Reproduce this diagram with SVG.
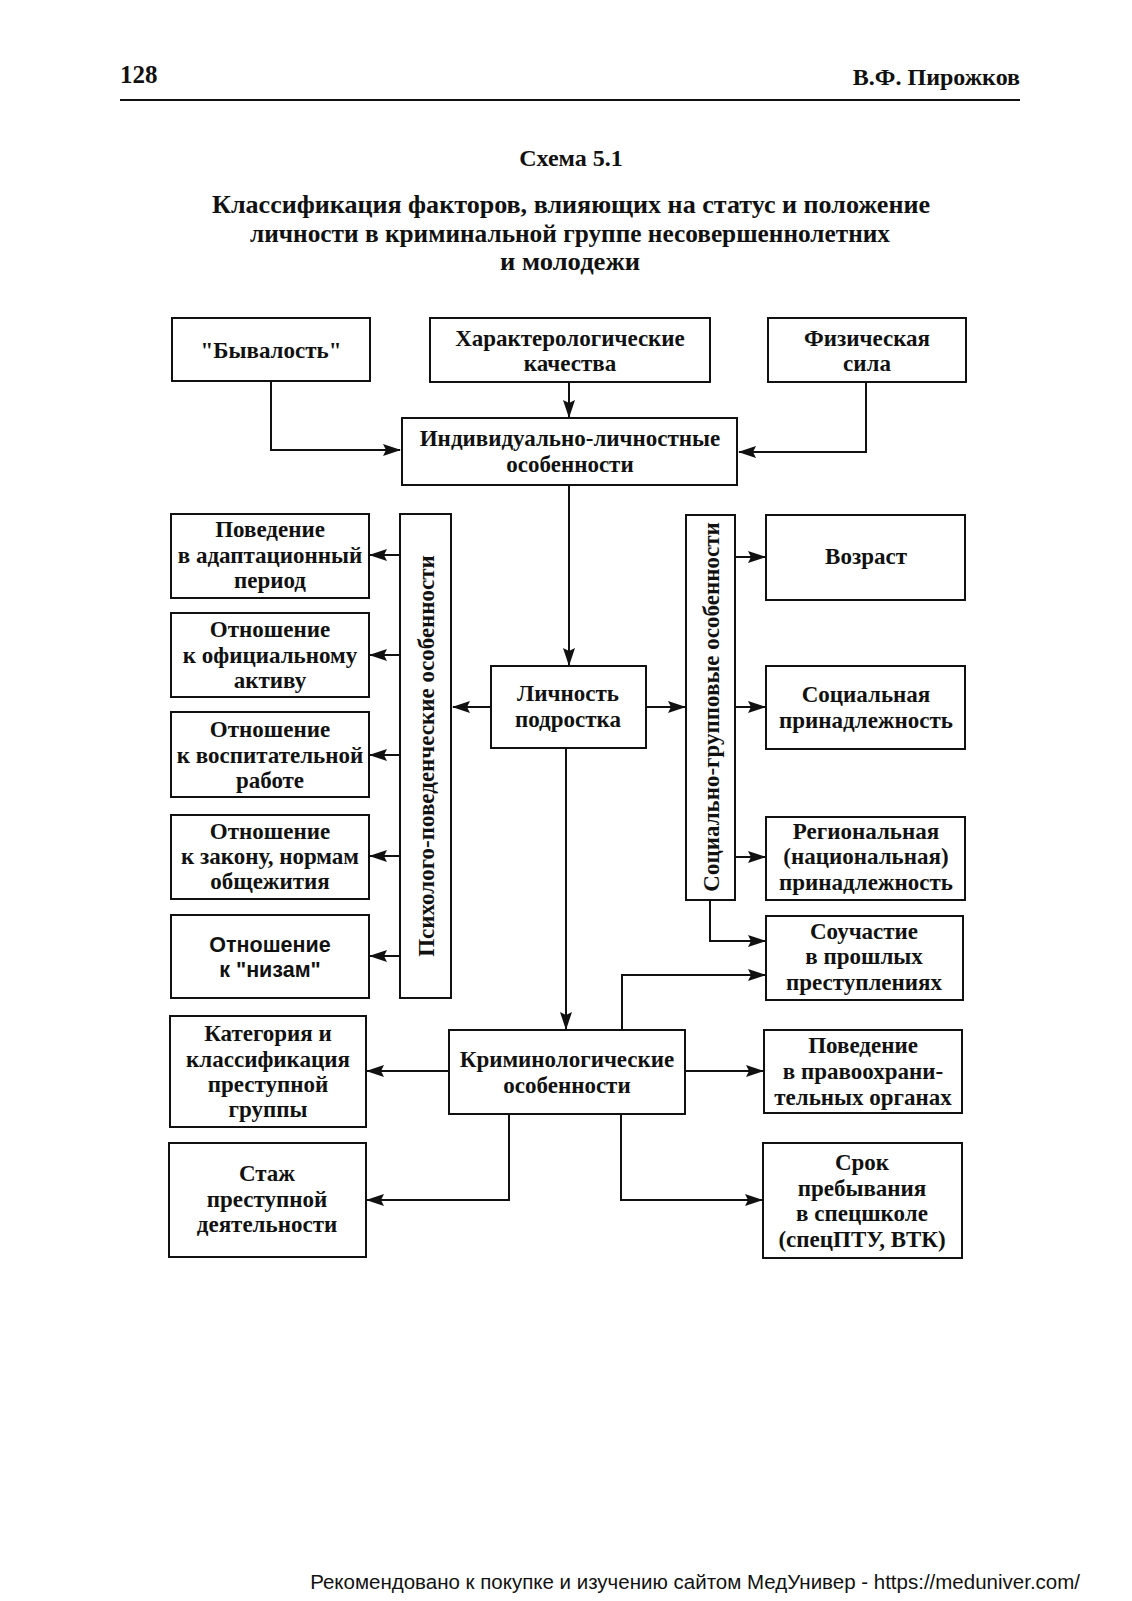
<svg xmlns="http://www.w3.org/2000/svg" width="1132" height="1601" viewBox="0 0 1132 1601">
<style>
.b{fill:#fff;stroke:#111;stroke-width:2}
.t{font-family:"Liberation Serif","Times New Roman",serif;font-weight:bold;font-size:23px;fill:#111;text-anchor:middle}
.s{font-family:"Liberation Sans",Arial,sans-serif;font-weight:bold;font-size:21.5px;fill:#111;text-anchor:middle}
.c{fill:none;stroke:#111;stroke-width:2}
.h{font-family:"Liberation Serif","Times New Roman",serif;font-weight:bold;fill:#111}
</style>
<defs>
<marker id="a" markerUnits="userSpaceOnUse" markerWidth="18" markerHeight="14" refX="17" refY="7" orient="auto">
<path d="M0,1 L18,7 L0,13 L3,7 Z" fill="#111"/>
</marker>
</defs>
<rect width="1132" height="1601" fill="#fff"/>
<g id="header">
<text class="h" x="120" y="83" font-size="25">128</text>
<text class="h" x="1020" y="85" font-size="24" text-anchor="end">В.Ф. Пирожков</text>
<line x1="120" y1="100" x2="1020" y2="100" stroke="#111" stroke-width="2"/>
<text class="h" x="571" y="166" font-size="24" text-anchor="middle">Схема 5.1</text>
<text class="h" x="571" y="213" font-size="25" text-anchor="middle" textLength="718" lengthAdjust="spacingAndGlyphs">Классификация факторов, влияющих на статус и положение</text>
<text class="h" x="570" y="242" font-size="25" text-anchor="middle" textLength="640" lengthAdjust="spacingAndGlyphs">личности в криминальной группе несовершеннолетних</text>
<text class="h" x="570" y="270" font-size="25" text-anchor="middle" textLength="140" lengthAdjust="spacingAndGlyphs">и молодежи</text>
</g>
<g id="connectors">
<path class="c" d="M271,381 V450 H400" marker-end="url(#a)"/>
<path class="c" d="M569,382 V417" marker-end="url(#a)"/>
<path class="c" d="M866,382 V452 H739" marker-end="url(#a)"/>
<path class="c" d="M569,485 V665" marker-end="url(#a)"/>
<path class="c" d="M491,707 H453" marker-end="url(#a)"/>
<path class="c" d="M646,707 H685" marker-end="url(#a)"/>
<path class="c" d="M400,555 H370" marker-end="url(#a)"/>
<path class="c" d="M400,655 H370" marker-end="url(#a)"/>
<path class="c" d="M400,755 H370" marker-end="url(#a)"/>
<path class="c" d="M400,856 H370" marker-end="url(#a)"/>
<path class="c" d="M400,956 H370" marker-end="url(#a)"/>
<path class="c" d="M735,557 H765" marker-end="url(#a)"/>
<path class="c" d="M735,707 H765" marker-end="url(#a)"/>
<path class="c" d="M735,857 H765" marker-end="url(#a)"/>
<path class="c" d="M710,900 V941 H765" marker-end="url(#a)"/>
<path class="c" d="M622,1030 V975 H765" marker-end="url(#a)"/>
<path class="c" d="M566,748 V1029" marker-end="url(#a)"/>
<path class="c" d="M449,1071 H367" marker-end="url(#a)"/>
<path class="c" d="M685,1071 H763" marker-end="url(#a)"/>
<path class="c" d="M509,1114 V1200 H367" marker-end="url(#a)"/>
<path class="c" d="M621,1114 V1200 H762" marker-end="url(#a)"/>
</g>
<g id="byvalost"><rect class="b" x="172" y="318" width="198" height="63"/><text class="t" x="271" y="358">"Бывалость"</text></g>
<g id="harakter"><rect class="b" x="430" y="318" width="280" height="64"/><text class="t" x="570" y="346">Характерологические</text><text class="t" x="570" y="371">качества</text></g>
<g id="fizsila"><rect class="b" x="768" y="318" width="198" height="64"/><text class="t" x="867" y="346">Физическая</text><text class="t" x="867" y="371">сила</text></g>
<g id="individ"><rect class="b" x="402" y="418" width="335" height="67"/><text class="t" x="570" y="446">Индивидуально-личностные</text><text class="t" x="570" y="472">особенности</text></g>
<g id="povedenie-adapt"><rect class="b" x="171" y="514" width="198" height="84"/><text class="t" x="270" y="537">Поведение</text><text class="t" x="270" y="563">в адаптационный</text><text class="t" x="270" y="588">период</text></g>
<g id="otn-aktiv"><rect class="b" x="171" y="613" width="198" height="84"/><text class="t" x="270" y="637">Отношение</text><text class="t" x="270" y="663">к официальному</text><text class="t" x="270" y="688">активу</text></g>
<g id="otn-vospit"><rect class="b" x="171" y="712" width="198" height="85"/><text class="t" x="270" y="737">Отношение</text><text class="t" x="270" y="763">к воспитательной</text><text class="t" x="270" y="788">работе</text></g>
<g id="otn-zakon"><rect class="b" x="171" y="815" width="198" height="84"/><text class="t" x="270" y="839">Отношение</text><text class="t" x="270" y="864">к закону, нормам</text><text class="t" x="270" y="889">общежития</text></g>
<g id="otn-nizam"><rect class="b" x="171" y="915" width="198" height="83"/><text class="s" x="270" y="952">Отношение</text><text class="s" x="270" y="977">к "низам"</text></g>
<g id="psiholog"><rect class="b" x="400" y="514" width="51" height="484"/><text class="t" transform="translate(434,756) rotate(-90)" x="0" y="0" font-size="24">Психолого-поведенческие особенности</text></g>
<g id="lichnost"><rect class="b" x="491" y="666" width="155" height="82"/><text class="t" x="568" y="701">Личность</text><text class="t" x="568" y="727">подростка</text></g>
<g id="socgrup"><rect class="b" x="686" y="515" width="49" height="385"/><text class="t" transform="translate(719,707) rotate(-90)" x="0" y="0">Социально-групповые особенности</text></g>
<g id="vozrast"><rect class="b" x="766" y="515" width="199" height="85"/><text class="t" x="866" y="564">Возраст</text></g>
<g id="social"><rect class="b" x="766" y="666" width="199" height="83"/><text class="t" x="866" y="702">Социальная</text><text class="t" x="866" y="728">принадлежность</text></g>
<g id="region"><rect class="b" x="766" y="817" width="199" height="83"/><text class="t" x="866" y="839">Региональная</text><text class="t" x="866" y="864">(национальная)</text><text class="t" x="866" y="890">принадлежность</text></g>
<g id="souchastie"><rect class="b" x="766" y="916" width="197" height="84"/><text class="t" x="864" y="939">Соучастие</text><text class="t" x="864" y="964">в прошлых</text><text class="t" x="864" y="990">преступлениях</text></g>
<g id="kategoria"><rect class="b" x="170" y="1016" width="196" height="111"/><text class="t" x="268" y="1041">Категория и</text><text class="t" x="268" y="1067">классификация</text><text class="t" x="268" y="1092">преступной</text><text class="t" x="268" y="1117">группы</text></g>
<g id="krimin"><rect class="b" x="449" y="1030" width="236" height="84"/><text class="t" x="567" y="1067">Криминологические</text><text class="t" x="567" y="1093">особенности</text></g>
<g id="povedenie-pravo"><rect class="b" x="764" y="1030" width="198" height="83"/><text class="t" x="863" y="1053">Поведение</text><text class="t" x="863" y="1079">в правоохрани-</text><text class="t" x="863" y="1105">тельных органах</text></g>
<g id="stazh"><rect class="b" x="169" y="1143" width="197" height="114"/><text class="t" x="267" y="1181">Стаж</text><text class="t" x="267" y="1207">преступной</text><text class="t" x="267" y="1232">деятельности</text></g>
<g id="srok"><rect class="b" x="763" y="1143" width="199" height="115"/><text class="t" x="862" y="1170">Срок</text><text class="t" x="862" y="1196">пребывания</text><text class="t" x="862" y="1221">в спецшколе</text><text class="t" x="862" y="1247">(спецПТУ, ВТК)</text></g>
<g id="footer"><text x="1080" y="1589" font-family="Liberation Sans, Arial, sans-serif" font-size="20.5" fill="#111" text-anchor="end">Рекомендовано к покупке и изучению сайтом МедУнивер - https://meduniver.com/</text></g>
</svg>
